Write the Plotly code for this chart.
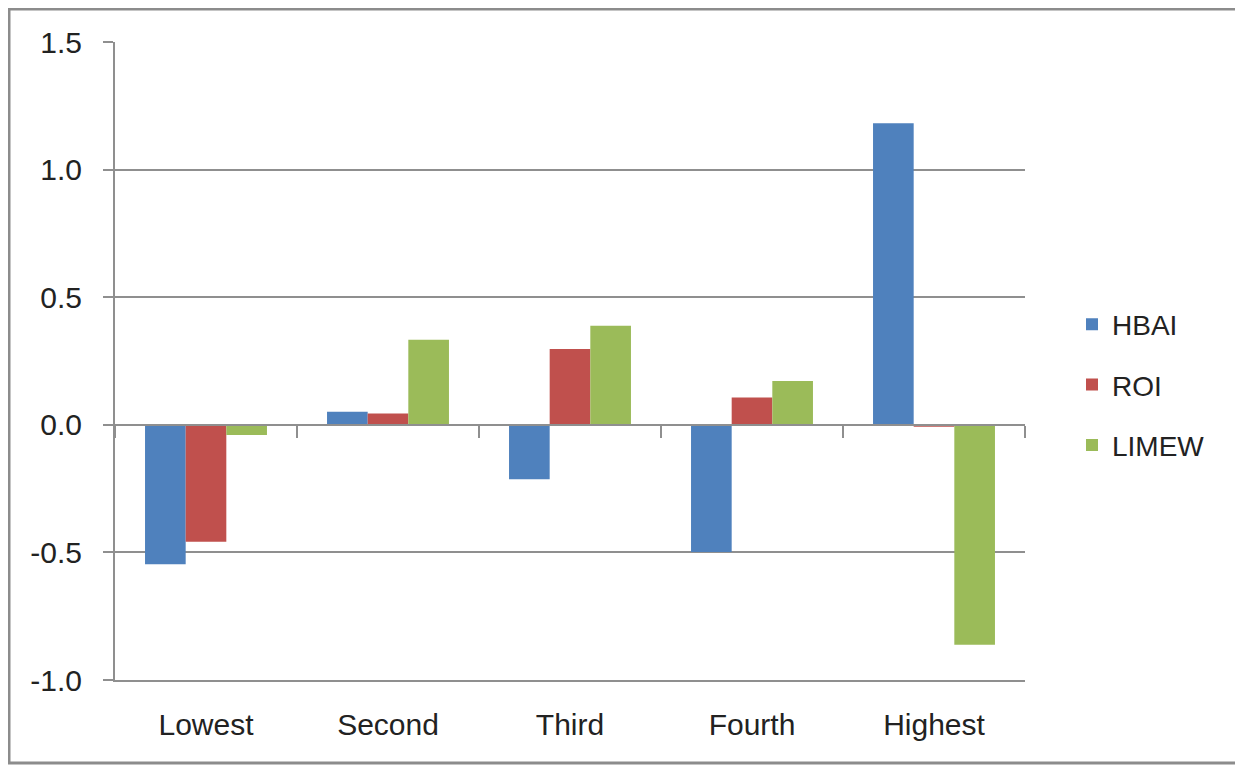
import plotly.graph_objects as go

categories = ["Lowest", "Second", "Third", "Fourth", "Highest"]
hbai = [-0.546, 0.051, -0.213, -0.498, 1.182]
roi = [-0.458, 0.044, 0.297, 0.107, -0.008]
limew = [-0.04, 0.333, 0.388, 0.172, -0.862]
series_names = ["HBAI", "ROI", "LIMEW"]
colors = ["#4F81BD", "#C0504D", "#9BBB59"]
y_ticks = [-1.0, -0.5, 0.0, 0.5, 1.0, 1.5]

# page body has an 8px margin; figure is sized to fit the window
W, H = 1235, 757
ml, mr, mt, mb = 107, 218, 34, 85
pw, ph = W - ml - mr, H - mt - mb
ymin, ymax = -1.0, 1.5
grid = "#8f8f8f"
font = "Liberation Sans, Arial, sans-serif"

fig = go.Figure()
for name, vals, col in zip(series_names, [hbai, roi, limew], colors):
    fig.add_trace(go.Bar(x=categories, y=vals, name=name, marker_color=col,
                         marker_line_width=0, legendgroup=name))

# invisible trace to carry the category axis drawn at y = 0
fig.add_trace(go.Bar(x=categories, y=[0] * len(categories), xaxis="x2",
                     showlegend=False, hoverinfo="skip", marker_opacity=0))

fig.update_layout(
    width=W, height=H,
    margin=dict(l=ml, r=mr, t=mt, b=mb),
    paper_bgcolor="white", plot_bgcolor="white",
    barmode="group", bargap=0.33, bargroupgap=0,
    font=dict(family=font, size=30, color="#222222"),
    xaxis=dict(type="category", categoryarray=categories, showgrid=False,
               ticks="", showline=True, linecolor=grid, linewidth=2,
               zeroline=False,
               ticklabelstandoff=17, tickfont=dict(size=30)),
    xaxis2=dict(type="category", categoryarray=categories, overlaying="x",
                matches="x", anchor="free",
                position=(0 - ymin) / (ymax - ymin), side="bottom",
                showticklabels=False, showgrid=False, showline=True,
                linecolor=grid, linewidth=2, ticks="outside",
                tickson="boundaries", ticklen=12, tickcolor=grid, tickwidth=2),
    yaxis=dict(range=[ymin, ymax], tickvals=y_ticks,
               ticktext=[f"{v:.1f}" for v in y_ticks],
               showgrid=True, gridcolor=grid, gridwidth=2,
               zeroline=True, zerolinecolor=grid, zerolinewidth=2,
               showline=True, linecolor=grid, linewidth=2,
               ticks="outside", ticklen=10, tickcolor=grid, tickwidth=2,
               ticklabelstandoff=15, tickfont=dict(size=30)),
    legend=dict(x=(1064 - ml) / pw, xanchor="left",
                y=(H - mb - 377) / ph, yanchor="middle",
                traceorder="grouped", tracegroupgap=21,
                font=dict(size=28, color="#222222"),
                bgcolor="rgba(0,0,0,0)"),
    shapes=[dict(type="rect", xref="paper", yref="paper",
                 x0=(1 - ml) / pw, x1=(1230 - ml) / pw,
                 y0=(H - mb - 755) / ph, y1=(H - mb - 1) / ph,
                 line=dict(color="#8c8c8c", width=3), layer="below")],
)

fig.write_html("out.html")
